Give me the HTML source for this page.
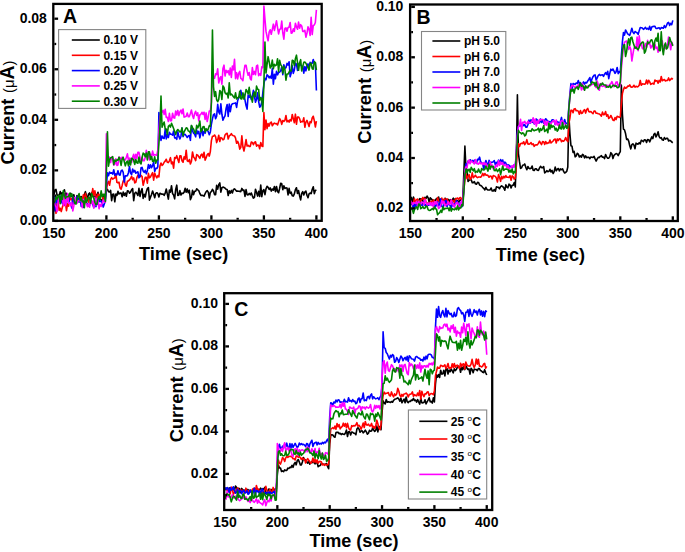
<!DOCTYPE html>
<html><head><meta charset="utf-8"><style>
html,body{margin:0;padding:0;background:#fff;width:685px;height:552px;overflow:hidden}
svg{display:block}
text{font-family:"Liberation Sans", sans-serif;font-weight:bold;fill:#000}
</style></head><body>
<svg width="685" height="552" viewBox="0 0 685 552"><rect width="685" height="552" fill="#fff"/><defs><clipPath id="ca"><rect x="53.3" y="3.9" width="268.4" height="216.9"/></clipPath><clipPath id="cb"><rect x="410.1" y="4.5" width="267.69999999999993" height="216.5"/></clipPath><clipPath id="cc"><rect x="224.2" y="293.2" width="268.0" height="216.8"/></clipPath></defs><g clip-path="url(#ca)"><polyline points="53.90,194.79 54.95,190.05 56.00,189.43 57.05,195.09 58.10,195.27 59.15,195.50 60.20,191.62 61.25,194.54 62.30,192.62 63.35,200.02 64.40,189.76 65.45,195.63 66.50,193.27 67.55,196.29 68.60,197.26 69.65,193.65 70.70,193.34 71.75,196.39 72.80,195.83 73.85,194.71 74.90,200.37 75.95,201.74 77.00,195.44 78.05,198.63 79.10,201.72 80.15,197.48 81.20,196.58 82.25,198.69 83.30,199.68 84.35,194.52 85.40,191.65 86.45,195.81 87.50,198.48 88.55,194.05 89.60,192.93 90.65,196.71 91.70,193.20 92.75,191.44 93.80,196.21 94.85,198.72 95.90,194.61 96.95,195.95 98.00,192.20 99.05,200.45 100.10,198.88 101.15,199.72 102.20,202.04 103.25,196.54 104.30,195.55 105.35,198.68 106.40,189.17 107.45,189.31 108.50,191.77 109.55,192.06 110.60,190.33 111.65,200.68 112.70,194.20 113.75,194.16 114.80,201.80 115.85,194.07 116.90,195.44 117.95,191.34 119.00,194.05 120.05,193.03 121.10,193.16 122.15,196.80 123.20,192.05 124.25,195.43 125.30,192.98 126.35,196.23 127.40,190.79 128.45,190.96 129.50,193.29 130.55,192.14 131.60,189.74 132.65,188.54 133.70,200.65 134.75,193.31 135.80,192.20 136.85,193.46 137.90,195.53 138.95,188.29 140.00,196.49 141.05,191.30 142.10,188.67 143.15,198.39 144.20,194.39 145.25,196.99 146.30,191.95 147.35,188.47 148.40,187.48 149.45,200.08 150.50,197.11 151.55,194.45 152.60,190.98 153.65,194.06 154.70,197.70 155.75,193.37 156.80,192.70 157.85,193.64 158.90,196.96 159.95,193.23 161.00,193.71 162.05,194.36 163.10,193.97 164.15,195.37 165.20,193.18 166.25,188.99 167.30,194.08 168.35,199.09 169.40,190.16 170.45,192.21 171.50,185.70 172.55,193.46 173.60,194.92 174.65,198.85 175.70,189.43 176.75,185.16 177.80,195.53 178.85,194.98 179.90,190.62 180.95,195.04 182.00,193.13 183.05,193.56 184.10,192.21 185.15,188.27 186.20,192.19 187.25,188.94 188.30,192.80 189.35,190.28 190.40,199.64 191.45,197.26 192.50,190.26 193.55,194.70 194.60,191.22 195.65,191.26 196.70,188.81 197.75,189.79 198.80,190.67 199.85,193.49 200.90,195.39 201.95,195.22 203.00,195.52 204.05,196.20 205.10,193.70 206.15,191.73 207.20,190.60 208.25,192.09 209.30,197.89 210.35,192.33 211.40,191.65 212.45,189.31 213.50,191.03 214.55,194.60 215.60,194.59 216.65,185.35 217.70,189.16 218.75,184.68 219.80,182.90 220.85,192.16 221.90,187.70 222.95,187.07 224.00,187.56 225.05,188.11 226.10,189.24 227.15,189.42 228.20,195.49 229.25,190.73 230.30,193.08 231.35,190.45 232.40,192.93 233.45,189.43 234.50,188.88 235.55,190.04 236.60,191.16 237.65,191.07 238.70,191.24 239.75,191.34 240.80,191.62 241.85,188.40 242.90,190.46 243.95,190.01 245.00,196.47 246.05,189.64 247.10,194.64 248.15,194.87 249.20,193.35 250.25,194.78 251.30,193.02 252.35,195.82 253.40,198.14 254.45,197.32 255.50,189.19 256.55,192.46 257.60,196.06 258.65,191.36 259.70,196.50 260.75,185.17 261.80,196.64 262.85,190.75 263.90,189.56 264.95,194.68 266.00,188.85 267.05,186.30 268.10,187.41 269.15,189.48 270.20,187.94 271.25,191.06 272.30,188.96 273.35,190.24 274.40,186.51 275.45,191.61 276.50,186.50 277.55,191.48 278.60,192.76 279.65,188.26 280.70,183.26 281.75,183.80 282.80,189.68 283.85,185.88 284.90,188.41 285.95,187.90 287.00,187.95 288.05,194.98 289.10,188.36 290.15,193.37 291.20,192.18 292.25,195.69 293.30,196.06 294.35,193.93 295.40,189.58 296.45,187.76 297.50,193.52 298.55,190.54 299.60,195.73 300.65,199.85 301.70,193.36 302.75,191.66 303.80,194.98 304.85,192.10 305.90,191.10 306.95,195.29 308.00,197.67 309.05,193.85 310.10,193.01 311.15,193.68 312.20,189.52 313.25,186.73 314.30,193.62 315.35,190.53 316.40,190.08" fill="none" stroke="#000000" stroke-width="1.6" stroke-linejoin="round"/><polyline points="53.90,209.64 54.95,205.70 56.00,213.32 57.05,203.86 58.10,200.57 59.15,210.43 60.20,208.21 61.25,211.60 62.30,207.46 63.35,203.71 64.40,205.50 65.45,203.20 66.50,210.61 67.55,203.62 68.60,206.09 69.65,196.78 70.70,199.67 71.75,198.46 72.80,201.42 73.85,199.64 74.90,200.37 75.95,203.11 77.00,201.44 78.05,200.00 79.10,201.03 80.15,200.04 81.20,198.46 82.25,200.42 83.30,194.82 84.35,201.50 85.40,193.42 86.45,197.93 87.50,198.48 88.55,202.12 89.60,197.58 90.65,198.06 91.70,196.17 92.75,188.55 93.80,195.51 94.85,190.90 95.90,195.78 96.95,199.36 98.00,194.04 99.05,197.01 100.10,194.31 101.15,193.06 102.20,196.03 103.25,201.08 104.30,197.20 105.35,194.70 106.40,190.04 107.45,183.68 108.50,181.36 109.55,185.25 110.60,179.39 111.65,177.70 112.70,179.13 113.75,178.33 114.80,178.00 115.85,173.89 116.90,182.33 117.95,182.83 119.00,182.11 120.05,188.04 121.10,189.20 122.15,185.46 123.20,180.96 124.25,179.69 125.30,184.93 126.35,186.22 127.40,181.24 128.45,180.88 129.50,179.91 130.55,178.51 131.60,176.29 132.65,179.66 133.70,177.87 134.75,182.95 135.80,182.26 136.85,177.57 137.90,175.33 138.95,175.66 140.00,176.69 141.05,175.44 142.10,176.57 143.15,185.19 144.20,181.31 145.25,177.25 146.30,177.39 147.35,183.12 148.40,173.38 149.45,177.83 150.50,176.81 151.55,174.61 152.60,172.70 153.65,180.21 154.70,173.14 155.75,175.97 156.80,177.83 157.85,175.59 158.90,176.87 159.95,166.10 161.00,163.00 162.05,165.41 163.10,164.41 164.15,162.27 165.20,161.12 166.25,159.22 167.30,162.16 168.35,162.60 169.40,160.86 170.45,157.69 171.50,163.74 172.55,161.98 173.60,168.11 174.65,157.55 175.70,158.37 176.75,155.67 177.80,159.36 178.85,162.43 179.90,155.73 180.95,155.72 182.00,160.81 183.05,162.27 184.10,156.85 185.15,159.14 186.20,150.18 187.25,160.88 188.30,161.48 189.35,159.55 190.40,164.05 191.45,161.19 192.50,151.95 193.55,156.99 194.60,158.24 195.65,160.58 196.70,154.64 197.75,155.16 198.80,156.82 199.85,158.32 200.90,155.15 201.95,154.02 203.00,157.44 204.05,152.26 205.10,160.15 206.15,157.78 207.20,154.75 208.25,153.48 209.30,156.10 210.35,151.49 211.40,140.63 212.45,136.22 213.50,136.29 214.55,134.99 215.60,136.61 216.65,142.60 217.70,139.58 218.75,135.21 219.80,141.51 220.85,137.57 221.90,138.18 222.95,139.87 224.00,139.08 225.05,134.92 226.10,133.74 227.15,133.33 228.20,139.02 229.25,135.92 230.30,135.04 231.35,133.62 232.40,135.35 233.45,135.67 234.50,135.93 235.55,138.16 236.60,143.29 237.65,141.33 238.70,143.82 239.75,149.14 240.80,147.38 241.85,135.81 242.90,146.77 243.95,151.00 245.00,145.85 246.05,139.54 247.10,146.08 248.15,145.26 249.20,146.40 250.25,146.39 251.30,142.04 252.35,142.48 253.40,144.70 254.45,142.37 255.50,141.81 256.55,146.16 257.60,145.04 258.65,145.23 259.70,148.67 260.75,142.60 261.80,145.99 262.85,146.47 263.90,112.47 264.95,129.60 266.00,120.15 267.05,128.65 268.10,123.63 269.15,126.08 270.20,122.82 271.25,122.07 272.30,125.77 273.35,123.99 274.40,123.16 275.45,123.73 276.50,123.66 277.55,124.88 278.60,121.81 279.65,118.59 280.70,120.39 281.75,124.39 282.80,120.45 283.85,121.33 284.90,120.31 285.95,115.47 287.00,121.88 288.05,120.48 289.10,122.14 290.15,119.62 291.20,120.95 292.25,114.48 293.30,118.70 294.35,122.69 295.40,114.17 296.45,124.27 297.50,117.12 298.55,116.93 299.60,118.62 300.65,122.21 301.70,121.47 302.75,121.66 303.80,117.77 304.85,127.26 305.90,122.18 306.95,120.33 308.00,123.20 309.05,126.55 310.10,121.66 311.15,122.69 312.20,117.97 313.25,116.27 314.30,120.59 315.35,126.99 316.40,121.22" fill="none" stroke="#ff0000" stroke-width="1.6" stroke-linejoin="round"/><polyline points="53.90,195.60 54.95,211.04 56.00,199.49 57.05,202.53 58.10,199.13 59.15,201.01 60.20,196.02 61.25,200.61 62.30,203.40 63.35,200.70 64.40,200.52 65.45,202.77 66.50,202.60 67.55,199.12 68.60,197.73 69.65,203.19 70.70,203.44 71.75,208.05 72.80,196.47 73.85,203.99 74.90,198.43 75.95,201.01 77.00,196.54 78.05,198.62 79.10,201.94 80.15,198.17 81.20,206.35 82.25,199.69 83.30,207.38 84.35,201.84 85.40,200.24 86.45,202.76 87.50,204.30 88.55,205.91 89.60,205.26 90.65,200.81 91.70,201.26 92.75,204.46 93.80,207.48 94.85,200.72 95.90,206.68 96.95,203.72 98.00,204.10 99.05,199.58 100.10,201.62 101.15,201.16 102.20,203.23 103.25,207.10 104.30,203.88 105.35,201.04 106.40,185.81 107.45,172.86 108.50,175.76 109.55,171.98 110.60,173.30 111.65,172.73 112.70,174.07 113.75,169.69 114.80,175.25 115.85,174.04 116.90,174.80 117.95,170.75 119.00,174.66 120.05,175.17 121.10,170.91 122.15,170.10 123.20,172.34 124.25,182.03 125.30,175.74 126.35,175.87 127.40,175.62 128.45,172.69 129.50,166.42 130.55,173.01 131.60,174.55 132.65,169.05 133.70,172.01 134.75,170.34 135.80,173.25 136.85,172.33 137.90,171.76 138.95,177.83 140.00,176.54 141.05,167.77 142.10,167.41 143.15,170.93 144.20,172.38 145.25,170.31 146.30,173.85 147.35,170.74 148.40,164.54 149.45,168.21 150.50,164.76 151.55,167.72 152.60,165.64 153.65,161.86 154.70,171.42 155.75,168.40 156.80,168.53 157.85,166.77 158.90,112.47 159.95,134.28 161.00,140.43 162.05,135.93 163.10,138.11 164.15,138.43 165.20,129.32 166.25,138.93 167.30,134.49 168.35,137.53 169.40,132.27 170.45,134.14 171.50,134.28 172.55,135.23 173.60,131.01 174.65,137.98 175.70,137.83 176.75,139.37 177.80,131.75 178.85,136.35 179.90,138.83 180.95,136.22 182.00,127.97 183.05,136.76 184.10,134.49 185.15,134.34 186.20,135.91 187.25,137.50 188.30,136.02 189.35,135.32 190.40,140.34 191.45,125.83 192.50,130.71 193.55,133.20 194.60,134.15 195.65,136.81 196.70,129.91 197.75,133.70 198.80,131.35 199.85,137.82 200.90,132.96 201.95,128.63 203.00,135.74 204.05,131.29 205.10,133.18 206.15,129.75 207.20,129.99 208.25,131.70 209.30,134.77 210.35,131.93 211.40,124.04 212.45,118.88 213.50,114.56 214.55,113.82 215.60,118.75 216.65,116.14 217.70,104.37 218.75,111.92 219.80,114.03 220.85,103.89 221.90,114.25 222.95,120.24 224.00,117.65 225.05,115.76 226.10,108.46 227.15,104.53 228.20,116.50 229.25,104.10 230.30,111.64 231.35,105.26 232.40,103.76 233.45,103.46 234.50,103.31 235.55,102.94 236.60,107.40 237.65,100.74 238.70,97.60 239.75,97.46 240.80,90.39 241.85,95.45 242.90,97.19 243.95,94.19 245.00,100.18 246.05,105.49 247.10,109.09 248.15,94.98 249.20,97.35 250.25,94.88 251.30,99.50 252.35,96.21 253.40,90.33 254.45,95.99 255.50,102.31 256.55,99.28 257.60,92.74 258.65,101.71 259.70,107.16 260.75,106.01 261.80,102.01 262.85,92.54 263.90,84.20 264.95,78.41 266.00,79.60 267.05,74.69 268.10,75.78 269.15,77.91 270.20,76.26 271.25,78.32 272.30,68.67 273.35,84.24 274.40,74.24 275.45,78.72 276.50,71.34 277.55,74.83 278.60,72.40 279.65,72.12 280.70,70.70 281.75,66.90 282.80,74.66 283.85,64.68 284.90,68.47 285.95,67.71 287.00,63.39 288.05,65.17 289.10,61.71 290.15,76.81 291.20,72.98 292.25,65.75 293.30,73.37 294.35,69.91 295.40,63.18 296.45,64.05 297.50,70.45 298.55,64.26 299.60,63.10 300.65,64.86 301.70,66.40 302.75,66.19 303.80,73.20 304.85,66.66 305.90,70.83 306.95,65.49 308.00,63.86 309.05,68.41 310.10,62.41 311.15,63.31 312.20,63.18 313.25,59.59 314.30,63.18 315.35,62.80 316.40,90.48" fill="none" stroke="#0000ff" stroke-width="1.6" stroke-linejoin="round"/><polyline points="53.90,198.95 54.95,204.89 56.00,206.89 57.05,211.60 58.10,201.27 59.15,195.71 60.20,199.92 61.25,198.86 62.30,196.96 63.35,205.44 64.40,192.50 65.45,205.70 66.50,201.17 67.55,193.47 68.60,203.33 69.65,202.92 70.70,205.57 71.75,202.27 72.80,210.85 73.85,205.72 74.90,197.39 75.95,202.42 77.00,203.33 78.05,200.69 79.10,200.59 80.15,200.73 81.20,198.78 82.25,207.68 83.30,199.36 84.35,203.97 85.40,199.82 86.45,203.85 87.50,206.71 88.55,203.95 89.60,207.14 90.65,199.60 91.70,203.43 92.75,200.96 93.80,208.05 94.85,197.53 95.90,205.13 96.95,198.35 98.00,200.32 99.05,208.75 100.10,204.24 101.15,206.41 102.20,203.36 103.25,200.03 104.30,202.04 105.35,202.26 106.40,133.70 107.45,160.11 108.50,159.95 109.55,157.13 110.60,162.56 111.65,157.18 112.70,158.20 113.75,165.14 114.80,164.36 115.85,158.70 116.90,165.47 117.95,164.94 119.00,156.97 120.05,157.61 121.10,159.07 122.15,157.18 123.20,158.95 124.25,159.82 125.30,159.88 126.35,157.25 127.40,153.88 128.45,160.48 129.50,158.17 130.55,158.51 131.60,162.39 132.65,157.33 133.70,154.26 134.75,160.49 135.80,154.32 136.85,158.49 137.90,152.22 138.95,152.39 140.00,157.58 141.05,163.42 142.10,157.32 143.15,160.72 144.20,160.65 145.25,157.46 146.30,150.34 147.35,154.85 148.40,155.15 149.45,159.99 150.50,154.18 151.55,157.39 152.60,151.10 153.65,155.38 154.70,154.52 155.75,154.90 156.80,155.19 157.85,149.99 158.90,130.79 159.95,116.37 161.00,113.94 162.05,112.12 163.10,110.29 164.15,114.43 165.20,109.38 166.25,117.49 167.30,117.27 168.35,121.51 169.40,113.31 170.45,120.82 171.50,120.63 172.55,113.27 173.60,117.72 174.65,118.11 175.70,110.99 176.75,115.00 177.80,110.41 178.85,115.63 179.90,111.79 180.95,110.04 182.00,113.70 183.05,108.96 184.10,117.09 185.15,116.66 186.20,116.24 187.25,113.07 188.30,116.66 189.35,116.58 190.40,113.60 191.45,110.07 192.50,115.40 193.55,118.49 194.60,113.59 195.65,111.33 196.70,115.40 197.75,112.77 198.80,120.96 199.85,114.97 200.90,114.25 201.95,112.25 203.00,114.45 204.05,112.21 205.10,119.42 206.15,112.92 207.20,121.54 208.25,117.16 209.30,110.97 210.35,111.08 211.40,102.16 212.45,71.58 213.50,76.70 214.55,78.24 215.60,73.85 216.65,74.62 217.70,68.81 218.75,83.00 219.80,78.49 220.85,76.70 221.90,84.18 222.95,68.49 224.00,65.16 225.05,76.03 226.10,70.41 227.15,72.53 228.20,70.63 229.25,74.87 230.30,67.97 231.35,77.34 232.40,65.95 233.45,69.85 234.50,59.40 235.55,78.63 236.60,72.67 237.65,78.90 238.70,73.45 239.75,71.39 240.80,78.34 241.85,79.08 242.90,80.74 243.95,71.30 245.00,65.18 246.05,65.21 247.10,71.13 248.15,75.28 249.20,72.59 250.25,78.73 251.30,79.97 252.35,67.54 253.40,74.56 254.45,71.41 255.50,74.70 256.55,65.81 257.60,65.13 258.65,75.72 259.70,73.79 260.75,75.29 261.80,66.91 262.85,67.56 263.90,6.06 264.95,18.99 266.00,31.40 267.05,36.44 268.10,40.73 269.15,32.09 270.20,29.75 271.25,34.31 272.30,29.42 273.35,24.16 274.40,30.49 275.45,25.70 276.50,20.76 277.55,27.70 278.60,33.90 279.65,29.26 280.70,29.07 281.75,21.01 282.80,32.96 283.85,39.23 284.90,28.50 285.95,27.82 287.00,31.27 288.05,27.42 289.10,27.13 290.15,22.45 291.20,33.29 292.25,32.77 293.30,28.89 294.35,31.37 295.40,23.33 296.45,26.82 297.50,29.27 298.55,22.02 299.60,28.19 300.65,24.66 301.70,25.90 302.75,31.39 303.80,31.41 304.85,30.42 305.90,37.17 306.95,33.28 308.00,26.86 309.05,29.20 310.10,35.45 311.15,17.42 312.20,34.57 313.25,25.69 314.30,24.96 315.35,22.50 316.40,9.85" fill="none" stroke="#ff00ff" stroke-width="1.6" stroke-linejoin="round"/><polyline points="53.90,203.08 54.95,201.06 56.00,196.41 57.05,199.31 58.10,195.98 59.15,195.62 60.20,203.62 61.25,194.89 62.30,199.36 63.35,190.64 64.40,194.98 65.45,198.40 66.50,196.70 67.55,196.78 68.60,196.54 69.65,193.20 70.70,196.74 71.75,193.73 72.80,196.74 73.85,199.33 74.90,203.56 75.95,204.06 77.00,198.16 78.05,196.69 79.10,193.58 80.15,200.37 81.20,197.93 82.25,201.83 83.30,200.95 84.35,207.65 85.40,197.55 86.45,202.34 87.50,199.63 88.55,197.21 89.60,197.50 90.65,203.07 91.70,193.43 92.75,196.33 93.80,198.26 94.85,202.25 95.90,204.57 96.95,203.96 98.00,198.75 99.05,196.64 100.10,198.98 101.15,190.88 102.20,196.63 103.25,194.20 104.30,194.35 105.35,201.46 106.40,171.46 107.45,131.68 108.50,166.14 109.55,159.86 110.60,157.81 111.65,157.55 112.70,156.71 113.75,164.55 114.80,159.97 115.85,161.33 116.90,159.87 117.95,160.11 119.00,157.28 120.05,160.07 121.10,165.45 122.15,159.20 123.20,157.24 124.25,161.65 125.30,165.86 126.35,162.25 127.40,161.12 128.45,165.82 129.50,160.24 130.55,164.90 131.60,158.25 132.65,158.63 133.70,160.66 134.75,164.40 135.80,159.55 136.85,162.75 137.90,163.19 138.95,157.06 140.00,162.75 141.05,163.89 142.10,157.54 143.15,153.15 144.20,153.89 145.25,156.85 146.30,152.95 147.35,159.88 148.40,151.90 149.45,151.91 150.50,159.47 151.55,156.52 152.60,161.27 153.65,161.38 154.70,156.81 155.75,163.29 156.80,160.09 157.85,159.67 158.90,143.49 159.95,126.42 161.00,96.04 162.05,127.16 163.10,124.24 164.15,122.06 165.20,128.80 166.25,129.08 167.30,134.53 168.35,126.37 169.40,125.18 170.45,127.12 171.50,123.35 172.55,125.77 173.60,128.56 174.65,131.50 175.70,134.61 176.75,130.95 177.80,129.47 178.85,130.64 179.90,131.92 180.95,131.74 182.00,127.92 183.05,135.72 184.10,131.82 185.15,129.82 186.20,127.84 187.25,128.23 188.30,130.97 189.35,131.30 190.40,133.23 191.45,125.42 192.50,127.70 193.55,129.08 194.60,131.95 195.65,133.44 196.70,125.20 197.75,127.96 198.80,125.68 199.85,120.97 200.90,131.77 201.95,130.32 203.00,126.69 204.05,126.50 205.10,131.92 206.15,128.64 207.20,130.27 208.25,128.91 209.30,125.62 210.35,126.24 211.40,102.15 212.45,30.07 213.50,86.83 214.55,96.39 215.60,91.66 216.65,99.75 217.70,101.68 218.75,99.45 219.80,90.48 220.85,91.74 221.90,99.52 222.95,85.92 224.00,87.47 225.05,92.72 226.10,94.11 227.15,93.17 228.20,98.00 229.25,82.75 230.30,95.01 231.35,94.06 232.40,95.32 233.45,96.79 234.50,98.02 235.55,92.87 236.60,99.03 237.65,97.65 238.70,97.70 239.75,91.23 240.80,98.64 241.85,98.91 242.90,92.87 243.95,99.11 245.00,95.41 246.05,89.54 247.10,91.22 248.15,93.92 249.20,87.37 250.25,95.70 251.30,97.15 252.35,102.17 253.40,94.66 254.45,92.05 255.50,96.75 256.55,86.14 257.60,89.24 258.65,89.58 259.70,100.75 260.75,97.48 261.80,98.56 262.85,111.37 263.90,83.71 264.95,41.95 266.00,73.05 267.05,64.30 268.10,56.67 269.15,61.72 270.20,67.94 271.25,66.45 272.30,60.02 273.35,68.69 274.40,64.39 275.45,65.71 276.50,64.89 277.55,58.74 278.60,71.70 279.65,60.34 280.70,64.73 281.75,66.12 282.80,73.09 283.85,66.33 284.90,69.54 285.95,80.12 287.00,74.16 288.05,74.07 289.10,72.04 290.15,70.44 291.20,71.02 292.25,60.21 293.30,60.75 294.35,65.54 295.40,58.64 296.45,55.17 297.50,62.48 298.55,70.30 299.60,62.88 300.65,59.67 301.70,71.01 302.75,66.62 303.80,62.38 304.85,62.04 305.90,63.22 306.95,65.48 308.00,67.58 309.05,70.09 310.10,63.62 311.15,63.25 312.20,68.66 313.25,69.17 314.30,61.71 315.35,62.55 316.40,70.16" fill="none" stroke="#008000" stroke-width="1.6" stroke-linejoin="round"/></g><g clip-path="url(#cb)"><polyline points="410.30,199.63 411.35,197.39 412.40,203.77 413.45,197.04 414.50,200.39 415.55,201.84 416.60,201.84 417.65,202.38 418.70,200.71 419.75,198.66 420.80,199.14 421.85,199.03 422.90,203.54 423.95,203.29 425.00,197.24 426.05,198.37 427.10,196.02 428.15,197.89 429.20,202.21 430.25,197.74 431.30,199.00 432.35,199.80 433.40,201.79 434.45,200.20 435.50,200.48 436.55,198.47 437.60,199.95 438.65,197.12 439.70,201.68 440.75,199.26 441.80,199.20 442.85,201.83 443.90,202.44 444.95,198.19 446.00,199.15 447.05,200.46 448.10,199.37 449.15,201.44 450.20,199.66 451.25,201.29 452.30,199.75 453.35,198.20 454.40,200.76 455.45,198.46 456.50,202.10 457.55,200.65 458.60,202.72 459.65,200.27 460.70,199.92 461.75,200.45 462.80,198.82 463.85,173.05 464.90,146.17 465.95,167.92 467.00,169.59 468.05,181.49 469.10,180.19 470.15,179.72 471.20,179.78 472.25,182.63 473.30,182.61 474.35,181.68 475.40,183.78 476.45,184.29 477.50,182.37 478.55,182.47 479.60,185.00 480.65,185.46 481.70,186.15 482.75,187.60 483.80,188.32 484.85,189.95 485.90,187.30 486.95,189.33 488.00,190.04 489.05,190.00 490.10,189.98 491.15,187.97 492.20,190.96 493.25,190.92 494.30,189.48 495.35,191.21 496.40,186.83 497.45,187.22 498.50,187.38 499.55,188.67 500.60,186.72 501.65,185.84 502.70,186.62 503.75,187.84 504.80,190.28 505.85,184.90 506.90,187.13 507.95,187.79 509.00,184.15 510.05,184.94 511.10,188.05 512.15,185.22 513.20,185.26 514.25,182.53 515.30,186.86 516.35,158.76 517.40,94.80 518.45,153.75 519.50,161.67 520.55,168.34 521.60,167.72 522.65,165.29 523.70,165.00 524.75,163.97 525.80,167.31 526.85,169.69 527.90,166.49 528.95,168.28 530.00,168.71 531.05,168.34 532.10,165.97 533.15,170.23 534.20,170.53 535.25,168.74 536.30,168.79 537.35,170.30 538.40,170.48 539.45,168.11 540.50,166.31 541.55,167.58 542.60,167.69 543.65,166.66 544.70,172.98 545.75,172.11 546.80,170.61 547.85,171.62 548.90,171.28 549.95,169.29 551.00,171.96 552.05,170.39 553.10,173.55 554.15,171.54 555.20,167.11 556.25,170.82 557.30,169.20 558.35,168.52 559.40,170.89 560.45,168.88 561.50,169.65 562.55,168.77 563.60,171.41 564.65,173.02 565.70,172.27 566.75,171.42 567.80,167.05 568.85,115.20 569.90,133.60 570.95,145.77 572.00,146.23 573.05,152.41 574.10,151.31 575.15,156.83 576.20,155.83 577.25,153.25 578.30,154.13 579.35,157.01 580.40,155.80 581.45,157.18 582.50,154.39 583.55,155.22 584.60,157.87 585.65,155.94 586.70,157.65 587.75,157.30 588.80,157.26 589.85,158.70 590.90,157.02 591.95,157.17 593.00,157.46 594.05,156.38 595.10,158.86 596.15,161.03 597.20,158.92 598.25,157.41 599.30,157.58 600.35,156.32 601.40,155.70 602.45,157.31 603.50,157.12 604.55,158.64 605.60,154.55 606.65,156.88 607.70,158.29 608.75,158.17 609.80,156.64 610.85,152.65 611.90,153.99 612.95,158.58 614.00,155.36 615.05,154.44 616.10,153.56 617.15,153.92 618.20,155.65 619.25,153.44 620.30,151.53 621.35,84.97 622.40,114.05 623.45,129.11 624.50,129.85 625.55,133.55 626.60,139.48 627.65,138.99 628.70,141.01 629.75,145.83 630.80,148.89 631.85,144.73 632.90,143.93 633.95,144.99 635.00,148.72 636.05,143.18 637.10,143.88 638.15,144.13 639.20,142.67 640.25,143.87 641.30,140.25 642.35,140.95 643.40,141.70 644.45,139.71 645.50,139.96 646.55,142.47 647.60,139.46 648.65,139.71 649.70,141.83 650.75,139.37 651.80,136.92 652.85,138.59 653.90,134.31 654.95,133.39 656.00,136.90 657.05,134.88 658.10,131.74 659.15,136.63 660.20,138.13 661.25,137.60 662.30,139.84 663.35,140.18 664.40,137.57 665.45,139.17 666.50,138.28 667.55,138.21 668.60,141.03 669.65,140.32 670.70,140.87 671.75,142.03 672.80,142.75" fill="none" stroke="#000000" stroke-width="1.6" stroke-linejoin="round"/><polyline points="410.30,203.88 411.35,203.53 412.40,203.71 413.45,202.47 414.50,198.69 415.55,204.25 416.60,199.60 417.65,199.02 418.70,201.98 419.75,202.61 420.80,200.47 421.85,199.11 422.90,197.39 423.95,199.70 425.00,198.42 426.05,202.15 427.10,202.92 428.15,204.47 429.20,203.44 430.25,201.99 431.30,200.98 432.35,203.73 433.40,199.84 434.45,201.52 435.50,202.50 436.55,202.73 437.60,197.64 438.65,201.02 439.70,202.97 440.75,203.07 441.80,197.97 442.85,202.38 443.90,199.16 444.95,198.73 446.00,205.57 447.05,198.86 448.10,201.71 449.15,203.31 450.20,202.32 451.25,200.30 452.30,200.65 453.35,200.55 454.40,202.65 455.45,198.99 456.50,198.58 457.55,197.98 458.60,199.50 459.65,197.87 460.70,197.50 461.75,200.04 462.80,199.72 463.85,189.89 464.90,179.57 465.95,173.84 467.00,178.60 468.05,176.12 469.10,174.70 470.15,179.50 471.20,178.34 472.25,172.87 473.30,177.76 474.35,176.73 475.40,175.26 476.45,176.87 477.50,177.63 478.55,177.06 479.60,176.96 480.65,177.29 481.70,175.96 482.75,173.41 483.80,175.76 484.85,173.50 485.90,175.17 486.95,175.06 488.00,175.57 489.05,177.25 490.10,175.99 491.15,176.26 492.20,178.91 493.25,175.57 494.30,175.94 495.35,176.38 496.40,178.13 497.45,181.98 498.50,174.54 499.55,177.41 500.60,181.32 501.65,176.21 502.70,178.74 503.75,176.26 504.80,177.76 505.85,175.56 506.90,177.27 507.95,177.24 509.00,177.53 510.05,175.62 511.10,180.29 512.15,175.83 513.20,176.78 514.25,179.11 515.30,178.16 516.35,165.88 517.40,151.86 518.45,143.63 519.50,146.44 520.55,143.70 521.60,143.19 522.65,143.60 523.70,141.76 524.75,144.60 525.80,143.06 526.85,139.65 527.90,143.98 528.95,144.14 530.00,143.74 531.05,142.53 532.10,144.58 533.15,143.76 534.20,146.37 535.25,144.93 536.30,144.74 537.35,144.84 538.40,143.39 539.45,141.17 540.50,142.99 541.55,144.56 542.60,141.63 543.65,141.69 544.70,144.49 545.75,141.59 546.80,143.75 547.85,142.88 548.90,143.00 549.95,140.08 551.00,143.02 552.05,142.03 553.10,141.04 554.15,139.41 555.20,139.07 556.25,143.02 557.30,138.92 558.35,140.47 559.40,138.76 560.45,138.95 561.50,141.78 562.55,140.66 563.60,141.20 564.65,139.91 565.70,137.50 566.75,140.35 567.80,141.59 568.85,123.66 569.90,118.02 570.95,110.20 572.00,110.32 573.05,112.71 574.10,109.03 575.15,108.63 576.20,110.81 577.25,110.65 578.30,111.14 579.35,114.15 580.40,110.58 581.45,113.39 582.50,112.96 583.55,110.58 584.60,109.71 585.65,113.07 586.70,109.50 587.75,108.44 588.80,111.45 589.85,111.99 590.90,111.57 591.95,112.77 593.00,113.68 594.05,111.04 595.10,110.99 596.15,113.31 597.20,113.23 598.25,113.72 599.30,113.95 600.35,114.81 601.40,116.16 602.45,112.13 603.50,114.79 604.55,114.39 605.60,111.62 606.65,116.14 607.70,114.58 608.75,118.46 609.80,117.51 610.85,115.48 611.90,117.59 612.95,120.09 614.00,120.64 615.05,117.61 616.10,119.57 617.15,116.29 618.20,116.67 619.25,117.40 620.30,116.59 621.35,103.72 622.40,93.64 623.45,89.63 624.50,87.11 625.55,88.16 626.60,87.74 627.65,86.10 628.70,86.34 629.75,84.90 630.80,86.88 631.85,87.17 632.90,86.76 633.95,85.27 635.00,87.20 636.05,86.21 637.10,86.88 638.15,86.56 639.20,85.29 640.25,80.43 641.30,85.26 642.35,83.91 643.40,84.01 644.45,84.30 645.50,83.73 646.55,80.08 647.60,83.86 648.65,80.33 649.70,81.84 650.75,84.35 651.80,83.76 652.85,83.23 653.90,84.15 654.95,79.97 656.00,81.08 657.05,80.68 658.10,83.26 659.15,80.40 660.20,81.99 661.25,76.51 662.30,80.80 663.35,79.94 664.40,79.51 665.45,80.90 666.50,80.55 667.55,80.36 668.60,77.95 669.65,80.56 670.70,79.36 671.75,78.29 672.80,79.41" fill="none" stroke="#ff0000" stroke-width="1.6" stroke-linejoin="round"/><polyline points="410.30,203.28 411.35,203.93 412.40,204.46 413.45,208.82 414.50,203.52 415.55,208.45 416.60,202.60 417.65,203.18 418.70,202.75 419.75,202.76 420.80,203.78 421.85,205.38 422.90,204.94 423.95,201.44 425.00,205.47 426.05,204.79 427.10,205.75 428.15,205.35 429.20,204.94 430.25,203.86 431.30,204.92 432.35,205.03 433.40,205.54 434.45,204.18 435.50,206.94 436.55,204.25 437.60,201.83 438.65,205.83 439.70,204.44 440.75,198.92 441.80,206.26 442.85,207.47 443.90,205.17 444.95,200.87 446.00,200.43 447.05,206.69 448.10,203.25 449.15,204.34 450.20,205.48 451.25,208.10 452.30,202.38 453.35,206.01 454.40,203.77 455.45,204.19 456.50,200.75 457.55,202.08 458.60,206.58 459.65,204.86 460.70,202.35 461.75,206.92 462.80,205.11 463.85,186.79 464.90,173.21 465.95,163.92 467.00,164.82 468.05,160.98 469.10,162.62 470.15,159.75 471.20,161.32 472.25,160.43 473.30,161.70 474.35,160.09 475.40,161.73 476.45,163.43 477.50,159.26 478.55,159.65 479.60,157.17 480.65,161.81 481.70,162.65 482.75,164.32 483.80,168.97 484.85,164.06 485.90,160.60 486.95,163.24 488.00,166.54 489.05,160.36 490.10,162.68 491.15,162.23 492.20,162.37 493.25,161.80 494.30,160.62 495.35,165.08 496.40,162.38 497.45,163.12 498.50,160.15 499.55,164.54 500.60,159.59 501.65,161.77 502.70,160.02 503.75,164.71 504.80,162.00 505.85,163.05 506.90,166.84 507.95,164.66 509.00,165.23 510.05,166.42 511.10,166.24 512.15,167.74 513.20,166.06 514.25,164.72 515.30,167.07 516.35,152.66 517.40,131.72 518.45,126.39 519.50,125.43 520.55,125.75 521.60,126.15 522.65,123.76 523.70,125.75 524.75,124.48 525.80,127.13 526.85,127.31 527.90,124.72 528.95,120.09 530.00,123.24 531.05,119.67 532.10,122.33 533.15,122.14 534.20,123.95 535.25,122.68 536.30,118.99 537.35,119.97 538.40,123.27 539.45,122.78 540.50,119.11 541.55,122.48 542.60,119.77 543.65,123.35 544.70,120.43 545.75,118.75 546.80,120.13 547.85,121.32 548.90,121.57 549.95,122.06 551.00,121.99 552.05,119.72 553.10,119.82 554.15,121.31 555.20,124.57 556.25,123.20 557.30,121.67 558.35,122.20 559.40,124.96 560.45,121.12 561.50,117.44 562.55,124.86 563.60,122.43 564.65,119.48 565.70,123.45 566.75,123.49 567.80,122.42 568.85,106.85 569.90,93.93 570.95,83.67 572.00,88.88 573.05,83.60 574.10,83.81 575.15,84.48 576.20,83.09 577.25,83.40 578.30,80.58 579.35,83.69 580.40,82.53 581.45,84.78 582.50,83.93 583.55,81.89 584.60,84.07 585.65,82.36 586.70,82.94 587.75,80.99 588.80,79.47 589.85,77.54 590.90,82.75 591.95,79.05 593.00,76.65 594.05,75.32 595.10,74.92 596.15,80.05 597.20,77.93 598.25,75.51 599.30,74.44 600.35,75.36 601.40,75.05 602.45,74.75 603.50,76.35 604.55,74.22 605.60,72.62 606.65,74.49 607.70,71.23 608.75,78.63 609.80,73.43 610.85,69.18 611.90,70.43 612.95,68.99 614.00,71.15 615.05,73.36 616.10,71.72 617.15,67.46 618.20,73.59 619.25,71.54 620.30,72.66 621.35,56.18 622.40,41.76 623.45,32.62 624.50,35.12 625.55,30.01 626.60,31.86 627.65,33.80 628.70,34.59 629.75,35.35 630.80,32.02 631.85,28.22 632.90,32.14 633.95,33.59 635.00,31.51 636.05,32.18 637.10,32.71 638.15,34.41 639.20,30.65 640.25,27.47 641.30,27.75 642.35,28.01 643.40,29.29 644.45,28.57 645.50,27.32 646.55,29.15 647.60,28.34 648.65,29.49 649.70,26.38 650.75,30.19 651.80,26.93 652.85,26.43 653.90,26.30 654.95,26.38 656.00,28.49 657.05,28.52 658.10,28.06 659.15,27.83 660.20,29.12 661.25,27.64 662.30,27.85 663.35,28.29 664.40,25.60 665.45,27.60 666.50,25.49 667.55,22.97 668.60,22.40 669.65,25.45 670.70,23.35 671.75,24.68 672.80,20.39" fill="none" stroke="#0000ff" stroke-width="1.6" stroke-linejoin="round"/><polyline points="410.30,200.16 411.35,202.15 412.40,204.70 413.45,202.57 414.50,203.01 415.55,203.38 416.60,201.31 417.65,205.65 418.70,201.37 419.75,205.44 420.80,203.89 421.85,202.13 422.90,202.19 423.95,204.58 425.00,199.46 426.05,202.62 427.10,205.00 428.15,203.08 429.20,204.67 430.25,202.55 431.30,205.52 432.35,202.48 433.40,207.38 434.45,201.73 435.50,203.82 436.55,201.35 437.60,205.29 438.65,208.39 439.70,207.53 440.75,205.17 441.80,200.44 442.85,203.17 443.90,201.40 444.95,205.78 446.00,204.74 447.05,204.65 448.10,201.43 449.15,204.19 450.20,203.73 451.25,199.94 452.30,204.92 453.35,204.21 454.40,207.24 455.45,204.30 456.50,202.73 457.55,202.27 458.60,206.58 459.65,208.53 460.70,202.98 461.75,200.37 462.80,205.14 463.85,187.06 464.90,170.85 465.95,166.83 467.00,167.76 468.05,161.71 469.10,159.99 470.15,163.66 471.20,160.76 472.25,161.80 473.30,162.70 474.35,163.92 475.40,159.61 476.45,162.85 477.50,163.82 478.55,164.28 479.60,162.08 480.65,163.77 481.70,163.04 482.75,164.62 483.80,162.69 484.85,164.72 485.90,163.08 486.95,166.69 488.00,165.25 489.05,167.14 490.10,161.77 491.15,165.72 492.20,165.01 493.25,168.88 494.30,166.88 495.35,167.92 496.40,164.88 497.45,166.31 498.50,160.87 499.55,165.38 500.60,162.04 501.65,164.26 502.70,162.65 503.75,166.00 504.80,164.59 505.85,165.05 506.90,167.57 507.95,165.43 509.00,169.02 510.05,167.47 511.10,167.47 512.15,165.60 513.20,167.48 514.25,164.69 515.30,167.02 516.35,149.57 517.40,135.26 518.45,126.57 519.50,124.86 520.55,119.31 521.60,130.45 522.65,122.25 523.70,122.47 524.75,121.42 525.80,123.92 526.85,123.31 527.90,121.29 528.95,123.16 530.00,122.43 531.05,122.58 532.10,121.29 533.15,117.78 534.20,123.67 535.25,119.02 536.30,126.07 537.35,121.12 538.40,123.22 539.45,119.49 540.50,120.29 541.55,119.51 542.60,119.43 543.65,120.17 544.70,125.36 545.75,121.24 546.80,125.30 547.85,121.26 548.90,125.06 549.95,123.54 551.00,123.69 552.05,121.97 553.10,120.91 554.15,120.44 555.20,124.40 556.25,119.99 557.30,125.14 558.35,123.50 559.40,127.95 560.45,121.90 561.50,120.56 562.55,120.88 563.60,122.91 564.65,123.30 565.70,125.85 566.75,125.87 567.80,125.37 568.85,109.49 569.90,96.93 570.95,87.40 572.00,85.33 573.05,85.84 574.10,86.75 575.15,87.93 576.20,86.41 577.25,86.93 578.30,84.52 579.35,87.04 580.40,85.39 581.45,89.85 582.50,83.32 583.55,89.53 584.60,86.22 585.65,87.15 586.70,87.01 587.75,86.21 588.80,86.43 589.85,86.06 590.90,85.13 591.95,84.40 593.00,84.27 594.05,83.58 595.10,86.00 596.15,87.62 597.20,81.09 598.25,84.70 599.30,90.28 600.35,83.60 601.40,85.78 602.45,86.42 603.50,86.05 604.55,85.38 605.60,87.45 606.65,85.10 607.70,85.77 608.75,85.90 609.80,84.43 610.85,83.66 611.90,81.65 612.95,84.34 614.00,86.67 615.05,84.84 616.10,82.15 617.15,81.93 618.20,86.86 619.25,84.21 620.30,85.99 621.35,68.93 622.40,57.47 623.45,46.09 624.50,42.26 625.55,41.56 626.60,40.99 627.65,45.73 628.70,49.44 629.75,46.55 630.80,49.32 631.85,61.01 632.90,54.32 633.95,48.14 635.00,46.81 636.05,47.64 637.10,37.12 638.15,50.66 639.20,35.78 640.25,45.43 641.30,43.59 642.35,48.29 643.40,49.00 644.45,46.53 645.50,43.50 646.55,47.76 647.60,40.35 648.65,44.22 649.70,43.42 650.75,48.01 651.80,46.11 652.85,44.81 653.90,49.49 654.95,44.62 656.00,48.31 657.05,47.14 658.10,52.29 659.15,49.50 660.20,47.30 661.25,42.60 662.30,40.84 663.35,51.05 664.40,48.52 665.45,48.51 666.50,45.93 667.55,43.98 668.60,36.95 669.65,42.63 670.70,49.60 671.75,42.15 672.80,45.14" fill="none" stroke="#ff00ff" stroke-width="1.6" stroke-linejoin="round"/><polyline points="410.30,207.55 411.35,208.65 412.40,209.84 413.45,213.34 414.50,209.55 415.55,207.40 416.60,206.95 417.65,209.48 418.70,204.04 419.75,204.35 420.80,208.70 421.85,207.96 422.90,206.54 423.95,208.38 425.00,208.05 426.05,206.11 427.10,206.43 428.15,209.63 429.20,210.45 430.25,210.33 431.30,209.36 432.35,208.64 433.40,209.75 434.45,206.90 435.50,208.79 436.55,209.27 437.60,214.78 438.65,213.35 439.70,212.79 440.75,210.35 441.80,212.46 442.85,206.79 443.90,209.64 444.95,208.26 446.00,208.65 447.05,208.12 448.10,208.08 449.15,210.69 450.20,207.07 451.25,211.17 452.30,208.65 453.35,209.32 454.40,209.87 455.45,208.05 456.50,209.63 457.55,205.72 458.60,210.03 459.65,207.76 460.70,208.04 461.75,204.70 462.80,205.82 463.85,191.96 464.90,174.86 465.95,168.95 467.00,172.61 468.05,170.62 469.10,169.11 470.15,172.34 471.20,167.35 472.25,169.08 473.30,170.93 474.35,168.65 475.40,172.62 476.45,171.28 477.50,172.05 478.55,169.02 479.60,171.72 480.65,172.86 481.70,168.44 482.75,169.78 483.80,169.99 484.85,169.36 485.90,166.13 486.95,168.69 488.00,171.12 489.05,164.30 490.10,169.18 491.15,166.00 492.20,166.85 493.25,166.32 494.30,170.50 495.35,170.69 496.40,168.93 497.45,171.55 498.50,170.41 499.55,168.65 500.60,174.63 501.65,170.33 502.70,166.01 503.75,170.34 504.80,169.28 505.85,169.14 506.90,169.08 507.95,169.40 509.00,172.24 510.05,170.02 511.10,172.29 512.15,168.97 513.20,173.85 514.25,171.60 515.30,172.60 516.35,154.28 517.40,140.03 518.45,130.21 519.50,132.54 520.55,132.72 521.60,133.88 522.65,132.83 523.70,133.44 524.75,135.97 525.80,134.92 526.85,131.07 527.90,130.96 528.95,130.78 530.00,130.90 531.05,131.38 532.10,128.75 533.15,129.98 534.20,130.79 535.25,130.13 536.30,129.94 537.35,129.44 538.40,128.15 539.45,131.93 540.50,128.54 541.55,130.35 542.60,128.78 543.65,125.65 544.70,131.51 545.75,130.51 546.80,129.21 547.85,132.78 548.90,123.38 549.95,128.98 551.00,124.72 552.05,127.36 553.10,125.79 554.15,126.56 555.20,130.09 556.25,128.25 557.30,131.16 558.35,129.46 559.40,125.07 560.45,128.57 561.50,129.00 562.55,122.58 563.60,128.97 564.65,127.32 565.70,125.07 566.75,128.28 567.80,127.69 568.85,108.44 569.90,97.75 570.95,89.35 572.00,91.04 573.05,89.11 574.10,93.00 575.15,88.62 576.20,87.77 577.25,86.93 578.30,89.34 579.35,85.87 580.40,82.95 581.45,86.28 582.50,85.19 583.55,87.03 584.60,90.21 585.65,85.73 586.70,87.89 587.75,87.82 588.80,85.69 589.85,84.90 590.90,84.42 591.95,81.83 593.00,82.76 594.05,82.56 595.10,85.88 596.15,82.04 597.20,86.83 598.25,89.07 599.30,86.99 600.35,84.01 601.40,84.78 602.45,82.97 603.50,84.70 604.55,85.03 605.60,84.95 606.65,87.12 607.70,86.77 608.75,87.20 609.80,85.29 610.85,87.78 611.90,86.71 612.95,85.22 614.00,85.32 615.05,86.22 616.10,85.59 617.15,87.76 618.20,87.58 619.25,86.62 620.30,81.40 621.35,62.96 622.40,50.63 623.45,45.45 624.50,44.54 625.55,56.49 626.60,51.85 627.65,43.20 628.70,38.82 629.75,45.25 630.80,37.64 631.85,37.12 632.90,41.71 633.95,44.98 635.00,48.35 636.05,47.19 637.10,48.95 638.15,49.46 639.20,47.34 640.25,44.56 641.30,43.27 642.35,42.11 643.40,42.34 644.45,53.24 645.50,51.31 646.55,46.80 647.60,41.84 648.65,43.16 649.70,42.58 650.75,40.26 651.80,39.83 652.85,42.81 653.90,49.68 654.95,40.47 656.00,38.09 657.05,41.27 658.10,33.20 659.15,50.40 660.20,50.66 661.25,31.82 662.30,47.91 663.35,54.74 664.40,45.65 665.45,43.11 666.50,49.06 667.55,47.81 668.60,43.36 669.65,37.50 670.70,41.11 671.75,42.86 672.80,45.98" fill="none" stroke="#008000" stroke-width="1.6" stroke-linejoin="round"/></g><g clip-path="url(#cc)"><polyline points="225.00,489.91 226.05,488.72 227.09,488.11 228.14,491.03 229.19,487.85 230.24,488.82 231.28,487.87 232.33,488.83 233.38,487.21 234.42,491.10 235.47,486.13 236.52,487.20 237.56,490.54 238.61,488.25 239.66,488.66 240.70,492.72 241.75,488.43 242.80,490.62 243.85,490.03 244.89,490.70 245.94,490.40 246.99,489.50 248.03,489.48 249.08,492.54 250.13,490.19 251.18,492.19 252.22,492.08 253.27,490.40 254.32,488.21 255.36,488.64 256.41,490.94 257.46,491.15 258.50,491.39 259.55,489.63 260.60,488.19 261.64,489.90 262.69,488.68 263.74,489.40 264.79,487.23 265.83,493.71 266.88,493.96 267.93,490.43 268.97,488.91 270.02,490.86 271.07,489.34 272.12,492.31 273.16,492.49 274.21,491.51 275.26,488.67 276.30,488.95 277.35,474.53 278.40,465.05 279.44,467.94 280.49,468.07 281.54,471.51 282.58,470.91 283.63,471.68 284.68,469.91 285.73,470.54 286.77,470.35 287.82,468.14 288.87,468.47 289.91,467.31 290.96,467.63 292.01,465.23 293.06,467.37 294.10,463.95 295.15,462.42 296.20,464.87 297.24,460.67 298.29,459.65 299.34,462.07 300.38,464.89 301.43,464.87 302.48,461.73 303.52,457.64 304.57,460.05 305.62,459.92 306.67,461.97 307.71,463.08 308.76,461.23 309.81,464.16 310.85,462.68 311.90,461.58 312.95,462.66 314.00,461.96 315.04,463.95 316.09,462.23 317.14,462.79 318.18,466.77 319.23,465.86 320.28,465.47 321.32,463.14 322.37,463.99 323.42,464.23 324.46,464.63 325.51,463.98 326.56,463.62 327.61,466.58 328.65,468.69 329.70,443.99 330.75,435.28 331.79,434.69 332.84,434.99 333.89,436.60 334.94,437.22 335.98,432.56 337.03,432.21 338.08,432.39 339.12,433.61 340.17,433.38 341.22,434.54 342.26,433.53 343.31,434.28 344.36,434.43 345.40,432.94 346.45,430.08 347.50,436.55 348.55,431.87 349.59,431.62 350.64,434.98 351.69,432.06 352.73,432.33 353.78,433.26 354.83,433.21 355.88,434.77 356.92,428.93 357.97,427.64 359.02,428.92 360.06,432.26 361.11,431.09 362.16,430.81 363.20,432.89 364.25,431.75 365.30,430.18 366.35,431.83 367.39,434.18 368.44,433.16 369.49,430.24 370.53,431.22 371.58,431.03 372.63,427.88 373.67,430.10 374.72,431.47 375.77,430.15 376.81,425.95 377.86,431.88 378.91,426.41 379.96,426.93 381.00,429.76 382.05,412.78 383.10,400.80 384.14,402.76 385.19,403.98 386.24,399.44 387.28,402.27 388.33,401.77 389.38,402.11 390.43,402.53 391.47,401.54 392.52,402.24 393.57,400.42 394.61,399.21 395.66,398.95 396.71,398.55 397.75,397.78 398.80,398.93 399.85,401.23 400.90,398.15 401.94,402.75 402.99,400.82 404.04,399.04 405.08,402.74 406.13,397.01 407.18,401.66 408.23,402.61 409.27,401.33 410.32,401.40 411.37,400.12 412.41,400.43 413.46,398.31 414.51,400.58 415.55,400.03 416.60,402.24 417.65,399.57 418.69,401.99 419.74,404.22 420.79,398.30 421.84,402.71 422.88,402.85 423.93,402.52 424.98,399.78 426.02,403.86 427.07,401.86 428.12,400.13 429.16,397.77 430.21,401.87 431.26,401.30 432.31,403.07 433.35,397.90 434.40,401.92 435.45,384.19 436.49,374.73 437.54,377.14 438.59,374.57 439.63,377.46 440.68,370.22 441.73,374.09 442.78,373.85 443.82,370.20 444.87,375.95 445.92,369.05 446.96,368.47 448.01,373.99 449.06,370.01 450.11,371.73 451.15,368.97 452.20,370.82 453.25,372.92 454.29,368.78 455.34,370.64 456.39,369.36 457.43,367.06 458.48,366.18 459.53,367.39 460.57,372.29 461.62,367.05 462.67,369.68 463.72,366.32 464.76,369.63 465.81,365.64 466.86,368.06 467.90,369.47 468.95,368.83 470.00,374.15 471.04,368.34 472.09,369.62 473.14,372.79 474.19,369.10 475.23,369.43 476.28,369.44 477.33,370.75 478.37,368.57 479.42,368.65 480.47,370.55 481.51,371.05 482.56,372.15 483.61,372.62 484.66,369.67 485.70,372.71 486.75,375.01" fill="none" stroke="#000000" stroke-width="1.6" stroke-linejoin="round"/><polyline points="225.00,488.47 226.05,488.80 227.09,490.33 228.14,489.04 229.19,491.58 230.24,493.89 231.28,487.11 232.33,489.46 233.38,494.41 234.42,492.48 235.47,491.65 236.52,489.81 237.56,487.92 238.61,489.92 239.66,491.38 240.70,489.65 241.75,491.01 242.80,490.25 243.85,491.91 244.89,492.98 245.94,488.18 246.99,491.31 248.03,490.48 249.08,491.89 250.13,491.81 251.18,491.46 252.22,489.52 253.27,488.46 254.32,489.79 255.36,491.93 256.41,485.46 257.46,489.28 258.50,489.10 259.55,492.01 260.60,491.44 261.64,489.81 262.69,494.38 263.74,492.53 264.79,490.28 265.83,486.38 266.88,490.28 267.93,493.13 268.97,493.50 270.02,489.26 271.07,492.75 272.12,491.87 273.16,487.42 274.21,491.13 275.26,491.96 276.30,492.81 277.35,469.74 278.40,459.96 279.44,463.25 280.49,464.11 281.54,461.03 282.58,457.56 283.63,458.76 284.68,461.43 285.73,457.85 286.77,456.44 287.82,457.41 288.87,456.46 289.91,456.20 290.96,456.61 292.01,457.15 293.06,458.76 294.10,458.66 295.15,459.94 296.20,455.96 297.24,456.12 298.29,457.18 299.34,456.70 300.38,457.67 301.43,459.50 302.48,457.90 303.52,459.14 304.57,459.15 305.62,463.04 306.67,460.27 307.71,458.66 308.76,460.39 309.81,461.63 310.85,463.41 311.90,461.83 312.95,458.05 314.00,462.27 315.04,459.28 316.09,462.52 317.14,459.81 318.18,463.15 319.23,461.64 320.28,461.39 321.32,461.71 322.37,464.99 323.42,464.09 324.46,465.37 325.51,464.20 326.56,464.84 327.61,464.96 328.65,463.55 329.70,441.86 330.75,428.90 331.79,428.42 332.84,427.70 333.89,428.72 334.94,426.11 335.98,429.14 337.03,423.55 338.08,426.81 339.12,424.57 340.17,428.88 341.22,427.32 342.26,426.39 343.31,423.15 344.36,426.30 345.40,423.56 346.45,427.74 347.50,423.39 348.55,427.55 349.59,429.63 350.64,429.95 351.69,425.67 352.73,426.43 353.78,425.47 354.83,426.03 355.88,424.88 356.92,422.69 357.97,426.25 359.02,425.34 360.06,426.65 361.11,429.26 362.16,426.46 363.20,423.02 364.25,427.53 365.30,421.49 366.35,424.87 367.39,425.08 368.44,424.16 369.49,425.96 370.53,425.92 371.58,423.43 372.63,427.43 373.67,426.33 374.72,428.36 375.77,425.86 376.81,420.18 377.86,423.80 378.91,427.94 379.96,429.57 381.00,425.07 382.05,403.84 383.10,395.89 384.14,392.10 385.19,393.86 386.24,393.27 387.28,393.16 388.33,392.48 389.38,395.46 390.43,395.94 391.47,391.93 392.52,394.84 393.57,396.91 394.61,393.82 395.66,395.42 396.71,393.87 397.75,388.34 398.80,391.00 399.85,395.31 400.90,396.81 401.94,394.43 402.99,396.26 404.04,393.93 405.08,393.81 406.13,393.09 407.18,394.35 408.23,397.01 409.27,394.59 410.32,394.18 411.37,393.85 412.41,391.95 413.46,396.28 414.51,394.56 415.55,395.41 416.60,395.88 417.65,393.02 418.69,395.44 419.74,390.49 420.79,399.08 421.84,391.32 422.88,394.68 423.93,396.60 424.98,393.87 426.02,393.95 427.07,392.29 428.12,391.75 429.16,395.65 430.21,394.15 431.26,393.48 432.31,393.75 433.35,394.78 434.40,391.02 435.45,375.85 436.49,371.28 437.54,367.04 438.59,368.31 439.63,368.31 440.68,365.30 441.73,365.69 442.78,366.52 443.82,366.08 444.87,364.81 445.92,368.56 446.96,366.62 448.01,363.52 449.06,368.23 450.11,367.80 451.15,368.11 452.20,363.71 453.25,367.56 454.29,363.46 455.34,367.21 456.39,365.53 457.43,365.14 458.48,367.22 459.53,368.35 460.57,363.19 461.62,366.62 462.67,364.18 463.72,363.73 464.76,369.08 465.81,362.08 466.86,364.85 467.90,365.89 468.95,365.99 470.00,366.18 471.04,364.20 472.09,359.38 473.14,364.93 474.19,367.46 475.23,365.16 476.28,359.00 477.33,364.10 478.37,359.19 479.42,366.10 480.47,366.05 481.51,366.94 482.56,366.34 483.61,363.99 484.66,363.44 485.70,368.23 486.75,366.29" fill="none" stroke="#ff0000" stroke-width="1.6" stroke-linejoin="round"/><polyline points="225.00,487.35 226.05,489.52 227.09,487.57 228.14,488.93 229.19,492.37 230.24,487.65 231.28,490.09 232.33,488.98 233.38,486.90 234.42,490.26 235.47,493.18 236.52,492.46 237.56,489.20 238.61,494.09 239.66,490.78 240.70,490.62 241.75,493.65 242.80,491.13 243.85,490.43 244.89,493.07 245.94,492.56 246.99,490.61 248.03,494.26 249.08,493.50 250.13,489.97 251.18,491.72 252.22,494.71 253.27,491.98 254.32,488.26 255.36,495.06 256.41,490.57 257.46,490.73 258.50,492.61 259.55,491.14 260.60,493.69 261.64,489.42 262.69,489.13 263.74,494.26 264.79,493.01 265.83,492.39 266.88,493.92 267.93,492.07 268.97,494.84 270.02,491.74 271.07,493.51 272.12,493.07 273.16,492.11 274.21,491.27 275.26,495.06 276.30,491.65 277.35,460.95 278.40,447.57 279.44,444.24 280.49,448.63 281.54,448.10 282.58,446.19 283.63,448.16 284.68,444.00 285.73,446.23 286.77,443.16 287.82,448.47 288.87,448.16 289.91,443.59 290.96,448.14 292.01,443.89 293.06,447.46 294.10,445.27 295.15,443.40 296.20,445.69 297.24,447.71 298.29,446.32 299.34,443.04 300.38,444.78 301.43,443.67 302.48,444.78 303.52,444.28 304.57,445.10 305.62,446.61 306.67,443.46 307.71,444.06 308.76,448.18 309.81,444.20 310.85,442.21 311.90,440.23 312.95,446.54 314.00,443.57 315.04,442.60 316.09,442.10 317.14,444.84 318.18,442.38 319.23,444.09 320.28,443.25 321.32,444.10 322.37,442.36 323.42,443.61 324.46,442.16 325.51,442.81 326.56,440.75 327.61,439.15 328.65,442.48 329.70,417.18 330.75,402.85 331.79,403.32 332.84,405.41 333.89,402.01 334.94,402.90 335.98,400.07 337.03,401.97 338.08,399.79 339.12,399.99 340.17,402.35 341.22,401.91 342.26,402.18 343.31,401.93 344.36,399.33 345.40,401.83 346.45,401.53 347.50,402.17 348.55,397.75 349.59,401.07 350.64,400.56 351.69,401.84 352.73,399.59 353.78,401.46 354.83,401.13 355.88,403.69 356.92,402.81 357.97,399.13 359.02,397.90 360.06,402.52 361.11,398.84 362.16,398.69 363.20,393.00 364.25,400.76 365.30,400.02 366.35,400.65 367.39,396.88 368.44,396.34 369.49,398.79 370.53,395.19 371.58,393.93 372.63,398.83 373.67,396.73 374.72,398.07 375.77,398.82 376.81,398.37 377.86,397.81 378.91,399.74 379.96,397.28 381.00,395.44 382.05,385.54 383.10,331.77 384.14,347.50 385.19,348.29 386.24,352.53 387.28,353.82 388.33,356.47 389.38,358.94 390.43,355.20 391.47,357.10 392.52,354.51 393.57,355.56 394.61,362.31 395.66,361.26 396.71,357.57 397.75,359.32 398.80,362.45 399.85,359.34 400.90,356.00 401.94,357.50 402.99,360.69 404.04,358.62 405.08,357.42 406.13,359.98 407.18,356.38 408.23,361.45 409.27,355.82 410.32,356.80 411.37,358.64 412.41,359.08 413.46,359.32 414.51,361.08 415.55,357.20 416.60,356.49 417.65,357.31 418.69,358.16 419.74,358.37 420.79,360.26 421.84,359.58 422.88,360.99 423.93,357.09 424.98,359.66 426.02,356.13 427.07,358.92 428.12,354.72 429.16,354.29 430.21,354.23 431.26,354.85 432.31,357.55 433.35,357.43 434.40,358.93 435.45,327.27 436.49,308.95 437.54,317.31 438.59,306.60 439.63,315.64 440.68,317.42 441.73,312.80 442.78,310.51 443.82,314.83 444.87,316.80 445.92,308.33 446.96,316.95 448.01,310.54 449.06,313.06 450.11,314.61 451.15,313.29 452.20,316.70 453.25,316.73 454.29,312.37 455.34,316.42 456.39,315.56 457.43,308.77 458.48,307.67 459.53,309.72 460.57,310.32 461.62,313.76 462.67,312.68 463.72,315.15 464.76,321.40 465.81,312.23 466.86,312.11 467.90,309.74 468.95,316.34 470.00,309.17 471.04,314.25 472.09,316.33 473.14,313.32 474.19,309.67 475.23,312.49 476.28,311.07 477.33,315.04 478.37,310.88 479.42,309.30 480.47,314.93 481.51,310.92 482.56,316.24 483.61,311.42 484.66,316.61 485.70,310.80 486.75,312.00" fill="none" stroke="#0000ff" stroke-width="1.6" stroke-linejoin="round"/><polyline points="225.00,495.92 226.05,499.11 227.09,491.28 228.14,496.93 229.19,496.60 230.24,497.17 231.28,497.24 232.33,494.69 233.38,495.44 234.42,498.13 235.47,496.38 236.52,496.02 237.56,498.19 238.61,499.75 239.66,500.59 240.70,499.77 241.75,496.97 242.80,498.50 243.85,495.32 244.89,499.19 245.94,496.72 246.99,499.12 248.03,501.49 249.08,499.72 250.13,502.56 251.18,500.22 252.22,499.27 253.27,501.57 254.32,502.29 255.36,500.70 256.41,498.81 257.46,503.13 258.50,500.14 259.55,502.30 260.60,503.11 261.64,503.76 262.69,504.95 263.74,501.35 264.79,499.76 265.83,505.74 266.88,502.40 267.93,500.50 268.97,501.88 270.02,498.39 271.07,501.05 272.12,496.17 273.16,495.14 274.21,495.80 275.26,498.71 276.30,491.45 277.35,443.60 278.40,448.12 279.44,452.30 280.49,450.98 281.54,448.42 282.58,451.38 283.63,446.15 284.68,442.86 285.73,450.84 286.77,449.10 287.82,447.35 288.87,450.85 289.91,448.35 290.96,451.05 292.01,455.58 293.06,456.45 294.10,450.64 295.15,448.54 296.20,452.81 297.24,448.35 298.29,455.76 299.34,449.70 300.38,451.20 301.43,449.92 302.48,449.74 303.52,450.74 304.57,450.42 305.62,451.99 306.67,447.07 307.71,451.62 308.76,447.57 309.81,451.37 310.85,452.80 311.90,448.79 312.95,451.09 314.00,451.98 315.04,448.51 316.09,454.96 317.14,451.94 318.18,452.42 319.23,448.25 320.28,455.45 321.32,453.93 322.37,453.12 323.42,455.11 324.46,457.14 325.51,452.68 326.56,452.95 327.61,454.02 328.65,451.60 329.70,426.36 330.75,404.92 331.79,406.04 332.84,406.50 333.89,405.25 334.94,406.29 335.98,407.36 337.03,406.93 338.08,407.28 339.12,406.96 340.17,404.31 341.22,407.94 342.26,402.76 343.31,406.22 344.36,402.73 345.40,409.04 346.45,409.27 347.50,411.28 348.55,414.47 349.59,406.96 350.64,407.75 351.69,408.17 352.73,408.45 353.78,407.03 354.83,413.64 355.88,409.14 356.92,409.01 357.97,408.05 359.02,405.88 360.06,406.49 361.11,410.78 362.16,406.73 363.20,407.88 364.25,407.21 365.30,409.06 366.35,406.81 367.39,407.35 368.44,408.22 369.49,407.43 370.53,404.56 371.58,410.44 372.63,412.02 373.67,409.83 374.72,405.32 375.77,408.31 376.81,405.51 377.86,407.62 378.91,405.58 379.96,408.99 381.00,404.30 382.05,377.15 383.10,362.46 384.14,360.78 385.19,373.15 386.24,364.28 387.28,362.06 388.33,370.44 389.38,371.33 390.43,367.85 391.47,364.67 392.52,365.88 393.57,368.52 394.61,368.47 395.66,371.74 396.71,368.43 397.75,370.12 398.80,371.73 399.85,364.82 400.90,366.42 401.94,364.81 402.99,371.47 404.04,365.07 405.08,364.38 406.13,369.16 407.18,373.50 408.23,374.58 409.27,362.55 410.32,365.77 411.37,364.00 412.41,365.31 413.46,368.64 414.51,366.45 415.55,364.88 416.60,368.49 417.65,364.93 418.69,368.06 419.74,362.92 420.79,372.06 421.84,365.59 422.88,368.01 423.93,365.84 424.98,365.70 426.02,367.24 427.07,365.25 428.12,367.07 429.16,363.41 430.21,364.47 431.26,363.16 432.31,365.02 433.35,362.25 434.40,364.58 435.45,329.22 436.49,326.48 437.54,330.23 438.59,332.18 439.63,326.59 440.68,328.63 441.73,327.76 442.78,328.02 443.82,324.82 444.87,324.01 445.92,326.54 446.96,324.13 448.01,330.04 449.06,328.20 450.11,331.86 451.15,325.77 452.20,328.49 453.25,324.77 454.29,332.51 455.34,327.32 456.39,336.15 457.43,331.13 458.48,333.16 459.53,332.54 460.57,337.31 461.62,327.02 462.67,332.75 463.72,323.18 464.76,328.80 465.81,335.72 466.86,324.21 467.90,326.12 468.95,323.79 470.00,331.69 471.04,338.66 472.09,328.05 473.14,331.21 474.19,333.54 475.23,336.54 476.28,336.30 477.33,326.72 478.37,336.35 479.42,337.22 480.47,322.01 481.51,333.19 482.56,334.91 483.61,330.97 484.66,333.59 485.70,339.29 486.75,354.70" fill="none" stroke="#ff00ff" stroke-width="1.6" stroke-linejoin="round"/><polyline points="225.00,498.82 226.05,494.67 227.09,493.76 228.14,495.08 229.19,494.49 230.24,497.58 231.28,501.85 232.33,498.84 233.38,496.11 234.42,496.62 235.47,498.14 236.52,500.13 237.56,491.26 238.61,497.45 239.66,495.33 240.70,498.08 241.75,498.67 242.80,494.49 243.85,493.86 244.89,499.31 245.94,498.62 246.99,499.19 248.03,500.60 249.08,498.30 250.13,496.56 251.18,500.54 252.22,491.00 253.27,498.30 254.32,497.81 255.36,492.56 256.41,497.56 257.46,496.48 258.50,495.93 259.55,493.01 260.60,499.27 261.64,493.16 262.69,499.72 263.74,492.80 264.79,494.54 265.83,496.53 266.88,499.44 267.93,493.91 268.97,495.51 270.02,494.38 271.07,498.89 272.12,495.17 273.16,495.21 274.21,494.80 275.26,500.26 276.30,499.88 277.35,465.24 278.40,451.93 279.44,450.92 280.49,455.29 281.54,453.73 282.58,455.57 283.63,455.76 284.68,455.53 285.73,451.09 286.77,455.31 287.82,455.16 288.87,453.85 289.91,450.51 290.96,449.43 292.01,449.77 293.06,449.59 294.10,453.97 295.15,454.32 296.20,450.47 297.24,453.99 298.29,452.93 299.34,455.48 300.38,452.18 301.43,455.35 302.48,453.95 303.52,453.32 304.57,451.47 305.62,449.37 306.67,449.79 307.71,448.12 308.76,449.74 309.81,452.87 310.85,452.80 311.90,453.82 312.95,455.57 314.00,451.08 315.04,458.15 316.09,453.56 317.14,455.39 318.18,458.55 319.23,450.46 320.28,455.98 321.32,458.91 322.37,453.11 323.42,459.40 324.46,458.34 325.51,455.26 326.56,461.37 327.61,460.59 328.65,458.04 329.70,428.89 330.75,418.12 331.79,418.83 332.84,418.78 333.89,413.97 334.94,411.89 335.98,410.56 337.03,411.79 338.08,411.66 339.12,416.72 340.17,412.96 341.22,413.77 342.26,410.01 343.31,414.63 344.36,414.49 345.40,414.19 346.45,414.29 347.50,414.08 348.55,409.76 349.59,412.13 350.64,414.27 351.69,416.42 352.73,410.50 353.78,413.00 354.83,414.95 355.88,416.53 356.92,418.08 357.97,413.94 359.02,412.94 360.06,414.16 361.11,414.88 362.16,411.15 363.20,415.21 364.25,417.52 365.30,418.90 366.35,414.09 367.39,414.22 368.44,417.31 369.49,419.77 370.53,413.23 371.58,414.51 372.63,413.83 373.67,415.14 374.72,421.12 375.77,414.03 376.81,416.32 377.86,412.58 378.91,414.83 379.96,417.26 381.00,419.84 382.05,399.80 383.10,383.78 384.14,383.28 385.19,375.79 386.24,380.27 387.28,378.15 388.33,380.86 389.38,382.35 390.43,381.14 391.47,379.85 392.52,370.93 393.57,368.48 394.61,371.71 395.66,371.92 396.71,367.57 397.75,368.36 398.80,368.16 399.85,378.27 400.90,368.38 401.94,375.29 402.99,376.05 404.04,382.02 405.08,381.10 406.13,382.54 407.18,383.34 408.23,384.77 409.27,380.38 410.32,383.87 411.37,379.59 412.41,377.26 413.46,375.07 414.51,365.01 415.55,379.85 416.60,374.50 417.65,374.99 418.69,379.23 419.74,378.26 420.79,378.05 421.84,376.87 422.88,380.98 423.93,375.29 424.98,369.19 426.02,375.16 427.07,378.34 428.12,370.92 429.16,384.59 430.21,369.31 431.26,369.87 432.31,373.85 433.35,370.97 434.40,370.09 435.45,352.79 436.49,333.90 437.54,335.61 438.59,341.00 439.63,336.77 440.68,346.15 441.73,340.38 442.78,340.97 443.82,341.51 444.87,340.82 445.92,341.49 446.96,345.52 448.01,348.85 449.06,341.51 450.11,336.17 451.15,339.40 452.20,342.08 453.25,342.51 454.29,342.49 455.34,342.64 456.39,341.37 457.43,350.09 458.48,343.30 459.53,348.74 460.57,340.24 461.62,350.28 462.67,345.66 463.72,339.40 464.76,341.46 465.81,337.27 466.86,344.78 467.90,331.71 468.95,343.24 470.00,348.09 471.04,340.50 472.09,344.88 473.14,342.75 474.19,339.68 475.23,336.63 476.28,337.78 477.33,330.09 478.37,330.17 479.42,335.10 480.47,330.20 481.51,331.49 482.56,333.25 483.61,335.45 484.66,340.01 485.70,332.12 486.75,339.35" fill="none" stroke="#008000" stroke-width="1.6" stroke-linejoin="round"/></g><rect x="53.3" y="3.9" width="268.4" height="216.9" fill="none" stroke="#000" stroke-width="2.3"/><line x1="106.40" y1="219.70000000000002" x2="106.40" y2="215.3" stroke="#000" stroke-width="2.3"/><line x1="158.90" y1="219.70000000000002" x2="158.90" y2="215.3" stroke="#000" stroke-width="2.3"/><line x1="211.40" y1="219.70000000000002" x2="211.40" y2="215.3" stroke="#000" stroke-width="2.3"/><line x1="263.90" y1="219.70000000000002" x2="263.90" y2="215.3" stroke="#000" stroke-width="2.3"/><line x1="316.40" y1="219.70000000000002" x2="316.40" y2="215.3" stroke="#000" stroke-width="2.3"/><line x1="80.15" y1="219.70000000000002" x2="80.15" y2="217.8" stroke="#000" stroke-width="2.3"/><line x1="132.65" y1="219.70000000000002" x2="132.65" y2="217.8" stroke="#000" stroke-width="2.3"/><line x1="185.15" y1="219.70000000000002" x2="185.15" y2="217.8" stroke="#000" stroke-width="2.3"/><line x1="237.65" y1="219.70000000000002" x2="237.65" y2="217.8" stroke="#000" stroke-width="2.3"/><line x1="290.15" y1="219.70000000000002" x2="290.15" y2="217.8" stroke="#000" stroke-width="2.3"/><line x1="54.4" y1="220.90" x2="58.1" y2="220.90" stroke="#000" stroke-width="2.3"/><line x1="54.4" y1="170.35" x2="58.1" y2="170.35" stroke="#000" stroke-width="2.3"/><line x1="54.4" y1="119.80" x2="58.1" y2="119.80" stroke="#000" stroke-width="2.3"/><line x1="54.4" y1="69.25" x2="58.1" y2="69.25" stroke="#000" stroke-width="2.3"/><line x1="54.4" y1="18.70" x2="58.1" y2="18.70" stroke="#000" stroke-width="2.3"/><line x1="54.4" y1="195.62" x2="56.199999999999996" y2="195.62" stroke="#000" stroke-width="2.3"/><line x1="54.4" y1="145.07" x2="56.199999999999996" y2="145.07" stroke="#000" stroke-width="2.3"/><line x1="54.4" y1="94.53" x2="56.199999999999996" y2="94.53" stroke="#000" stroke-width="2.3"/><line x1="54.4" y1="43.97" x2="56.199999999999996" y2="43.97" stroke="#000" stroke-width="2.3"/><text transform="translate(53.90,237.50) scale(1,1.05)" font-size="14" text-anchor="middle" >150</text><text transform="translate(106.40,237.50) scale(1,1.05)" font-size="14" text-anchor="middle" >200</text><text transform="translate(158.90,237.50) scale(1,1.05)" font-size="14" text-anchor="middle" >250</text><text transform="translate(211.40,237.50) scale(1,1.05)" font-size="14" text-anchor="middle" >300</text><text transform="translate(263.90,237.50) scale(1,1.05)" font-size="14" text-anchor="middle" >350</text><text transform="translate(316.40,237.50) scale(1,1.05)" font-size="14" text-anchor="middle" >400</text><text transform="translate(46.90,225.00) scale(1,1.05)" font-size="14" text-anchor="end" >0.00</text><text transform="translate(46.90,174.45) scale(1,1.05)" font-size="14" text-anchor="end" >0.02</text><text transform="translate(46.90,123.90) scale(1,1.05)" font-size="14" text-anchor="end" >0.04</text><text transform="translate(46.90,73.35) scale(1,1.05)" font-size="14" text-anchor="end" >0.06</text><text transform="translate(46.90,22.80) scale(1,1.05)" font-size="14" text-anchor="end" >0.08</text><text transform="translate(63.00,22.80) scale(1,1.07)" font-size="19.5" text-anchor="start" >A</text><text transform="translate(13.9,112.6) rotate(-90)" font-size="18.3" text-anchor="middle">Current<tspan font-weight="normal" font-size="14.8" dx="5.6">(μ</tspan><tspan font-size="19.3">A</tspan><tspan font-weight="normal" font-size="14.8">)</tspan></text><text x="183.60" y="260.30" font-size="18.1" text-anchor="middle" >Time (sec)</text><rect x="410.1" y="4.5" width="267.69999999999993" height="216.5" fill="none" stroke="#000" stroke-width="2.3"/><line x1="462.80" y1="219.9" x2="462.80" y2="216.3" stroke="#000" stroke-width="2.3"/><line x1="515.30" y1="219.9" x2="515.30" y2="216.3" stroke="#000" stroke-width="2.3"/><line x1="567.80" y1="219.9" x2="567.80" y2="216.3" stroke="#000" stroke-width="2.3"/><line x1="620.30" y1="219.9" x2="620.30" y2="216.3" stroke="#000" stroke-width="2.3"/><line x1="672.80" y1="219.9" x2="672.80" y2="216.3" stroke="#000" stroke-width="2.3"/><line x1="436.55" y1="219.9" x2="436.55" y2="218.0" stroke="#000" stroke-width="2.3"/><line x1="489.05" y1="219.9" x2="489.05" y2="218.0" stroke="#000" stroke-width="2.3"/><line x1="541.55" y1="219.9" x2="541.55" y2="218.0" stroke="#000" stroke-width="2.3"/><line x1="594.05" y1="219.9" x2="594.05" y2="218.0" stroke="#000" stroke-width="2.3"/><line x1="646.55" y1="219.9" x2="646.55" y2="218.0" stroke="#000" stroke-width="2.3"/><line x1="411.20000000000005" y1="208.38" x2="414.90000000000003" y2="208.38" stroke="#000" stroke-width="2.3"/><line x1="411.20000000000005" y1="158.01" x2="414.90000000000003" y2="158.01" stroke="#000" stroke-width="2.3"/><line x1="411.20000000000005" y1="107.64" x2="414.90000000000003" y2="107.64" stroke="#000" stroke-width="2.3"/><line x1="411.20000000000005" y1="57.27" x2="414.90000000000003" y2="57.27" stroke="#000" stroke-width="2.3"/><line x1="411.20000000000005" y1="6.90" x2="414.90000000000003" y2="6.90" stroke="#000" stroke-width="2.3"/><line x1="411.20000000000005" y1="183.20" x2="413.00000000000006" y2="183.20" stroke="#000" stroke-width="2.3"/><line x1="411.20000000000005" y1="132.83" x2="413.00000000000006" y2="132.83" stroke="#000" stroke-width="2.3"/><line x1="411.20000000000005" y1="82.45" x2="413.00000000000006" y2="82.45" stroke="#000" stroke-width="2.3"/><line x1="411.20000000000005" y1="32.09" x2="413.00000000000006" y2="32.09" stroke="#000" stroke-width="2.3"/><text transform="translate(410.30,237.70) scale(1,1.05)" font-size="14" text-anchor="middle" >150</text><text transform="translate(462.80,237.70) scale(1,1.05)" font-size="14" text-anchor="middle" >200</text><text transform="translate(515.30,237.70) scale(1,1.05)" font-size="14" text-anchor="middle" >250</text><text transform="translate(567.80,237.70) scale(1,1.05)" font-size="14" text-anchor="middle" >300</text><text transform="translate(620.30,237.70) scale(1,1.05)" font-size="14" text-anchor="middle" >350</text><text transform="translate(672.80,237.70) scale(1,1.05)" font-size="14" text-anchor="middle" >400</text><text transform="translate(403.40,212.48) scale(1,1.05)" font-size="14" text-anchor="end" >0.02</text><text transform="translate(403.40,162.11) scale(1,1.05)" font-size="14" text-anchor="end" >0.04</text><text transform="translate(403.40,111.74) scale(1,1.05)" font-size="14" text-anchor="end" >0.06</text><text transform="translate(403.40,61.37) scale(1,1.05)" font-size="14" text-anchor="end" >0.08</text><text transform="translate(403.40,11.00) scale(1,1.05)" font-size="14" text-anchor="end" >0.10</text><text transform="translate(416.40,23.90) scale(1,1.07)" font-size="19.5" text-anchor="start" >B</text><text transform="translate(371.1,91.8) rotate(-90)" font-size="18.3" text-anchor="middle">Current<tspan font-weight="normal" font-size="14.8" dx="5.6">(μ</tspan><tspan font-size="19.3">A</tspan><tspan font-weight="normal" font-size="14.8">)</tspan></text><text x="540.40" y="260.80" font-size="18.1" text-anchor="middle" >Time (sec)</text><rect x="224.2" y="293.2" width="268.0" height="216.8" fill="none" stroke="#000" stroke-width="2.3"/><line x1="277.35" y1="508.9" x2="277.35" y2="505.09999999999997" stroke="#000" stroke-width="2.3"/><line x1="329.70" y1="508.9" x2="329.70" y2="505.09999999999997" stroke="#000" stroke-width="2.3"/><line x1="382.05" y1="508.9" x2="382.05" y2="505.09999999999997" stroke="#000" stroke-width="2.3"/><line x1="434.40" y1="508.9" x2="434.40" y2="505.09999999999997" stroke="#000" stroke-width="2.3"/><line x1="486.75" y1="508.9" x2="486.75" y2="505.09999999999997" stroke="#000" stroke-width="2.3"/><line x1="251.18" y1="508.9" x2="251.18" y2="507.0" stroke="#000" stroke-width="2.3"/><line x1="303.52" y1="508.9" x2="303.52" y2="507.0" stroke="#000" stroke-width="2.3"/><line x1="355.88" y1="508.9" x2="355.88" y2="507.0" stroke="#000" stroke-width="2.3"/><line x1="408.23" y1="508.9" x2="408.23" y2="507.0" stroke="#000" stroke-width="2.3"/><line x1="460.57" y1="508.9" x2="460.57" y2="507.0" stroke="#000" stroke-width="2.3"/><line x1="225.29999999999998" y1="473.90" x2="228.99999999999997" y2="473.90" stroke="#000" stroke-width="2.3"/><line x1="225.29999999999998" y1="431.40" x2="228.99999999999997" y2="431.40" stroke="#000" stroke-width="2.3"/><line x1="225.29999999999998" y1="388.90" x2="228.99999999999997" y2="388.90" stroke="#000" stroke-width="2.3"/><line x1="225.29999999999998" y1="346.40" x2="228.99999999999997" y2="346.40" stroke="#000" stroke-width="2.3"/><line x1="225.29999999999998" y1="303.90" x2="228.99999999999997" y2="303.90" stroke="#000" stroke-width="2.3"/><line x1="225.29999999999998" y1="495.15" x2="227.1" y2="495.15" stroke="#000" stroke-width="2.3"/><line x1="225.29999999999998" y1="452.65" x2="227.1" y2="452.65" stroke="#000" stroke-width="2.3"/><line x1="225.29999999999998" y1="410.15" x2="227.1" y2="410.15" stroke="#000" stroke-width="2.3"/><line x1="225.29999999999998" y1="367.65" x2="227.1" y2="367.65" stroke="#000" stroke-width="2.3"/><line x1="225.29999999999998" y1="325.15" x2="227.1" y2="325.15" stroke="#000" stroke-width="2.3"/><text transform="translate(225.00,527.00) scale(1,1.05)" font-size="14" text-anchor="middle" >150</text><text transform="translate(277.35,527.00) scale(1,1.05)" font-size="14" text-anchor="middle" >200</text><text transform="translate(329.70,527.00) scale(1,1.05)" font-size="14" text-anchor="middle" >250</text><text transform="translate(382.05,527.00) scale(1,1.05)" font-size="14" text-anchor="middle" >300</text><text transform="translate(434.40,527.00) scale(1,1.05)" font-size="14" text-anchor="middle" >350</text><text transform="translate(486.75,527.00) scale(1,1.05)" font-size="14" text-anchor="middle" >400</text><text transform="translate(218.00,477.60) scale(1,1.05)" font-size="14" text-anchor="end" >0.02</text><text transform="translate(218.00,435.10) scale(1,1.05)" font-size="14" text-anchor="end" >0.04</text><text transform="translate(218.00,392.60) scale(1,1.05)" font-size="14" text-anchor="end" >0.06</text><text transform="translate(218.00,350.10) scale(1,1.05)" font-size="14" text-anchor="end" >0.08</text><text transform="translate(218.00,307.60) scale(1,1.05)" font-size="14" text-anchor="end" >0.10</text><text transform="translate(234.30,315.60) scale(1,1.07)" font-size="19.5" text-anchor="start" >C</text><text transform="translate(182.9,390.4) rotate(-90)" font-size="18.3" text-anchor="middle">Current<tspan font-weight="normal" font-size="14.8" dx="5.6">(μ</tspan><tspan font-size="19.3">A</tspan><tspan font-weight="normal" font-size="14.8">)</tspan></text><text x="354.00" y="547.30" font-size="18.1" text-anchor="middle" >Time (sec)</text><rect x="58.6" y="29.6" width="87.20000000000002" height="78.80000000000001" fill="#fff" stroke="#858585" stroke-width="1.1"/><line x1="71.8" y1="40.00" x2="99.8" y2="40.00" stroke="#000000" stroke-width="1.6"/><text x="103.4" y="44.30" font-size="12">0.10 V</text><line x1="71.8" y1="55.30" x2="99.8" y2="55.30" stroke="#ff0000" stroke-width="1.6"/><text x="103.4" y="59.60" font-size="12">0.15 V</text><line x1="71.8" y1="70.60" x2="99.8" y2="70.60" stroke="#0000ff" stroke-width="1.6"/><text x="103.4" y="74.90" font-size="12">0.20 V</text><line x1="71.8" y1="85.90" x2="99.8" y2="85.90" stroke="#ff00ff" stroke-width="1.6"/><text x="103.4" y="90.20" font-size="12">0.25 V</text><line x1="71.8" y1="101.20" x2="99.8" y2="101.20" stroke="#008000" stroke-width="1.6"/><text x="103.4" y="105.50" font-size="12">0.30 V</text><rect x="421.5" y="31.5" width="84.30000000000001" height="78.5" fill="#fff" stroke="#858585" stroke-width="1.1"/><line x1="432.4" y1="41.00" x2="460.3" y2="41.00" stroke="#000000" stroke-width="1.6"/><text x="463.9" y="45.30" font-size="12">pH 5.0</text><line x1="432.4" y1="56.50" x2="460.3" y2="56.50" stroke="#ff0000" stroke-width="1.6"/><text x="463.9" y="60.80" font-size="12">pH 6.0</text><line x1="432.4" y1="72.00" x2="460.3" y2="72.00" stroke="#0000ff" stroke-width="1.6"/><text x="463.9" y="76.30" font-size="12">pH 7.0</text><line x1="432.4" y1="87.50" x2="460.3" y2="87.50" stroke="#ff00ff" stroke-width="1.6"/><text x="463.9" y="91.80" font-size="12">pH 8.0</text><line x1="432.4" y1="103.00" x2="460.3" y2="103.00" stroke="#008000" stroke-width="1.6"/><text x="463.9" y="107.30" font-size="12">pH 9.0</text><rect x="408.4" y="410" width="78.30000000000001" height="89" fill="#fff" stroke="#858585" stroke-width="1.1"/><line x1="419.3" y1="421.30" x2="447.4" y2="421.30" stroke="#000000" stroke-width="1.6"/><text x="450.8" y="425.60" font-size="12">25 <tspan font-size="8" font-weight="normal" dy="-4.6">o</tspan><tspan dy="4.6" dx="0.3">C</tspan></text><line x1="419.3" y1="439.00" x2="447.4" y2="439.00" stroke="#ff0000" stroke-width="1.6"/><text x="450.8" y="443.30" font-size="12">30 <tspan font-size="8" font-weight="normal" dy="-4.6">o</tspan><tspan dy="4.6" dx="0.3">C</tspan></text><line x1="419.3" y1="456.70" x2="447.4" y2="456.70" stroke="#0000ff" stroke-width="1.6"/><text x="450.8" y="461.00" font-size="12">35 <tspan font-size="8" font-weight="normal" dy="-4.6">o</tspan><tspan dy="4.6" dx="0.3">C</tspan></text><line x1="419.3" y1="474.40" x2="447.4" y2="474.40" stroke="#ff00ff" stroke-width="1.6"/><text x="450.8" y="478.70" font-size="12">40 <tspan font-size="8" font-weight="normal" dy="-4.6">o</tspan><tspan dy="4.6" dx="0.3">C</tspan></text><line x1="419.3" y1="492.10" x2="447.4" y2="492.10" stroke="#008000" stroke-width="1.6"/><text x="450.8" y="496.40" font-size="12">45 <tspan font-size="8" font-weight="normal" dy="-4.6">o</tspan><tspan dy="4.6" dx="0.3">C</tspan></text></svg>
</body></html>
